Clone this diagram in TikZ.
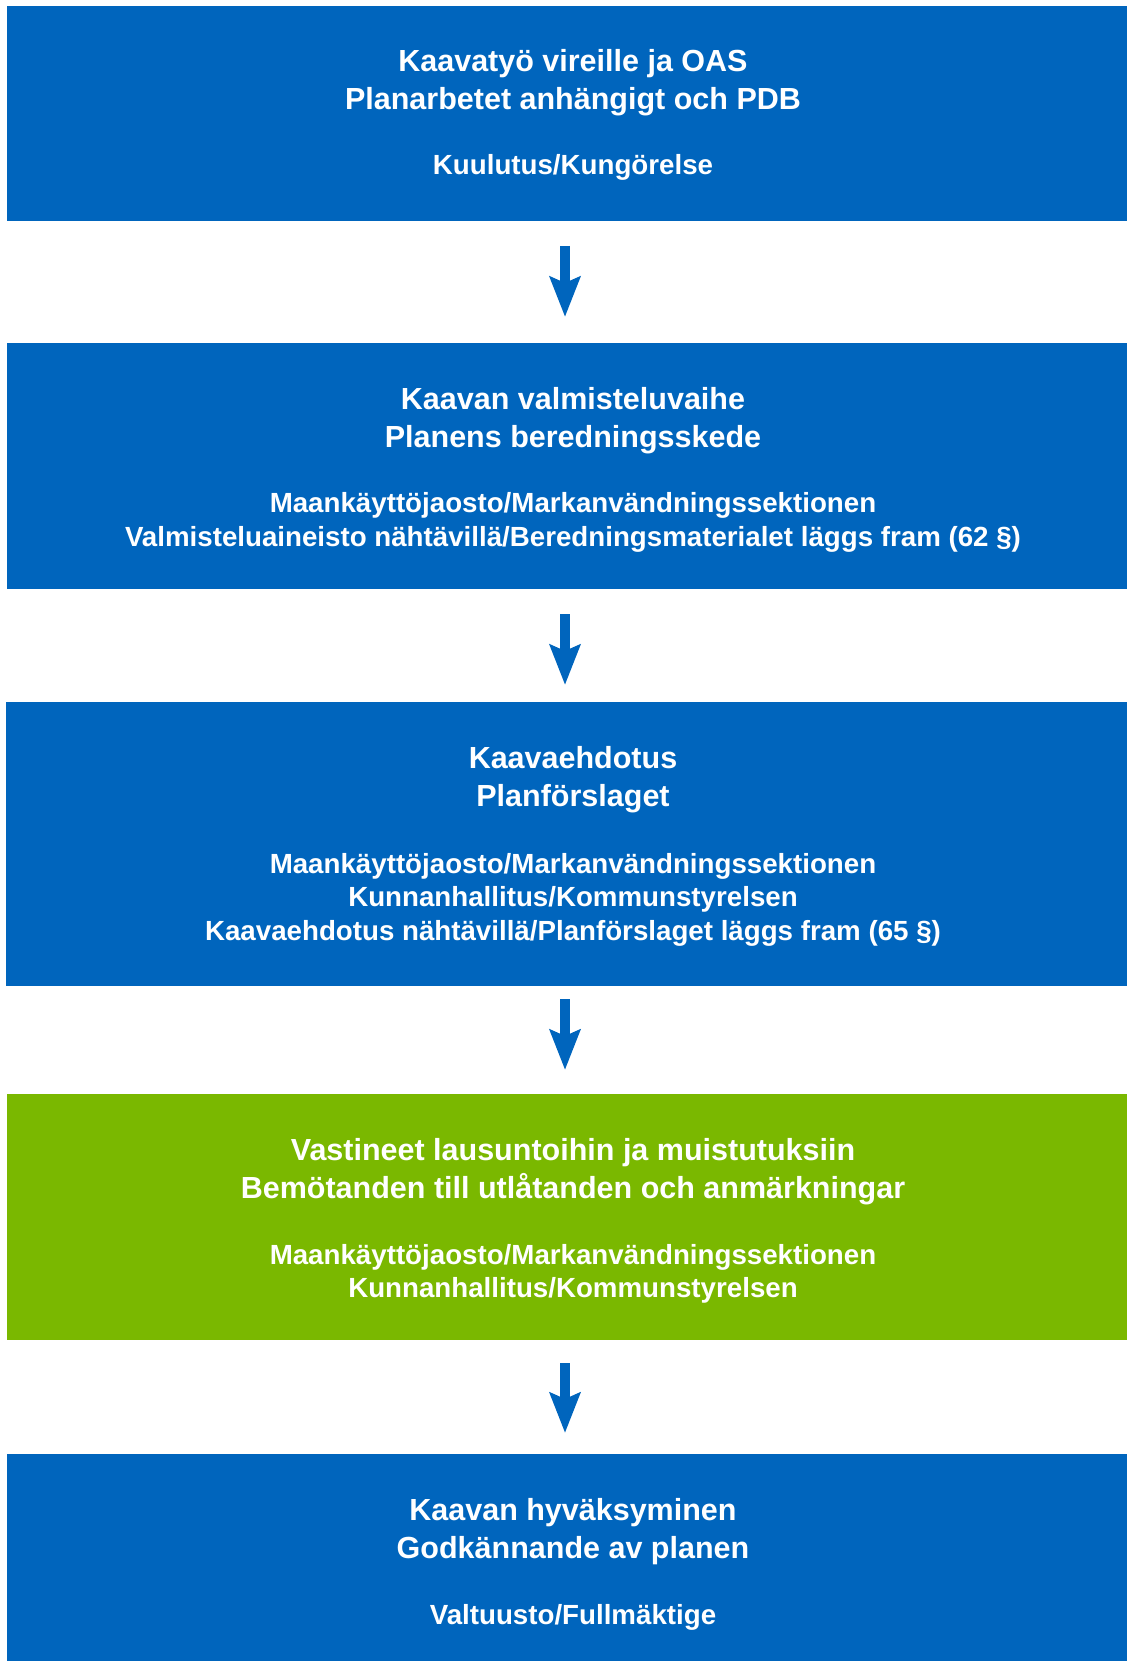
\documentclass[tikz,border=0pt]{standalone}
\usepackage{fontspec}
\setmainfont{Liberation Sans}
\usetikzlibrary{arrows.meta}
\definecolor{boxblue}{RGB}{0,101,189}
\definecolor{boxgreen}{RGB}{122,184,0}
\tikzset{
  box/.style={rectangle, inner sep=0pt, outer sep=0pt, anchor=north west},
  hd/.style={text=white, font=\fontsize{30.5}{36}\selectfont\bfseries, anchor=base, inner sep=0pt},
  sb/.style={text=white, font=\fontsize{27.7}{33}\selectfont\bfseries, anchor=base, inner sep=0pt},
  flow/.style={draw=boxblue, line width=10pt, -{Stealth[length=40pt, width=30pt, inset=6pt]}}
}
\begin{document}
\begin{tikzpicture}[x=1pt,y=-1pt]
\useasboundingbox (0,0) rectangle (1127,1661);
% boxes
\node[box, fill=boxblue, minimum width=1120pt, minimum height=215pt] (b1) at (7,6) {};
\node[box, fill=boxblue, minimum width=1120pt, minimum height=246pt] (b2) at (7,343) {};
\node[box, fill=boxblue, minimum width=1121pt, minimum height=284pt] (b3) at (6,702) {};
\node[box, fill=boxgreen, minimum width=1120pt, minimum height=246pt] (b4) at (7,1094) {};
\node[box, fill=boxblue, minimum width=1120pt, minimum height=207pt] (b5) at (7,1454) {};
% texts box 1
\node[hd] (t1a) at (573,72) {Kaavatyö vireille ja OAS};
\node[hd] (t1b) at (573,110) {Planarbetet anhängigt och PDB};
\node[sb] (t1c) at (573,175) {Kuulutus/Kungörelse};
% texts box 2
\node[hd] (t2a) at (573,409) {Kaavan valmisteluvaihe};
\node[hd] (t2b) at (573,447) {Planens beredningsskede};
\node[sb] (t2c) at (573,512) {Maankäyttöjaosto/Markanvändningssektionen};
\node[sb] (t2d) at (573,546) {Valmisteluaineisto nähtävillä/Beredningsmaterialet läggs fram (62 §)};
% texts box 3
\node[hd] (t3a) at (573,768) {Kaavaehdotus};
\node[hd] (t3b) at (573,806) {Planförslaget};
\node[sb] (t3c) at (573,873) {Maankäyttöjaosto/Markanvändningssektionen};
\node[sb] (t3d) at (573,906) {Kunnanhallitus/Kommunstyrelsen};
\node[sb] (t3e) at (573,940) {Kaavaehdotus nähtävillä/Planförslaget läggs fram (65 §)};
% texts box 4
\node[hd] (t4a) at (573,1160) {Vastineet lausuntoihin ja muistutuksiin};
\node[hd] (t4b) at (573,1198) {Bemötanden till utlåtanden och anmärkningar};
\node[sb] (t4c) at (573,1264) {Maankäyttöjaosto/Markanvändningssektionen};
\node[sb] (t4d) at (573,1297) {Kunnanhallitus/Kommunstyrelsen};
% texts box 5
\node[hd] (t5a) at (573,1520) {Kaavan hyväksyminen};
\node[hd] (t5b) at (573,1558) {Godkännande av planen};
\node[sb] (t5c) at (573,1624) {Valtuusto/Fullmäktige};
% arrows
\coordinate (a1s) at (565,246); \coordinate (a1e) at (565,317);
\coordinate (a2s) at (565,614); \coordinate (a2e) at (565,685);
\coordinate (a3s) at (565,999); \coordinate (a3e) at (565,1070);
\coordinate (a4s) at (565,1363); \coordinate (a4e) at (565,1433);
\draw[flow] (a1s) -- (a1e);
\draw[flow] (a2s) -- (a2e);
\draw[flow] (a3s) -- (a3e);
\draw[flow] (a4s) -- (a4e);
\end{tikzpicture}
\end{document}
